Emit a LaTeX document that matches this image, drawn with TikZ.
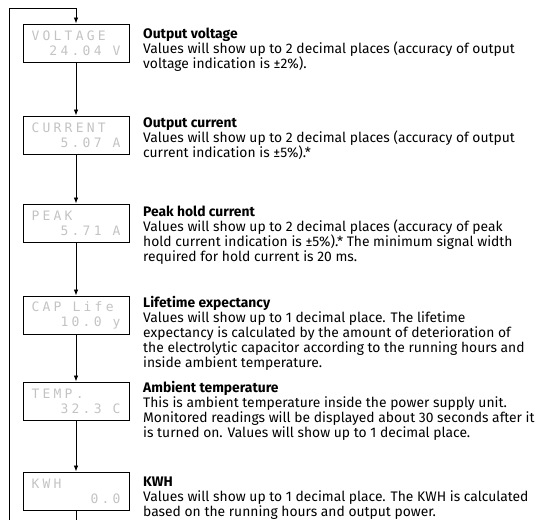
\documentclass[tikz,border=0pt]{standalone}
\usepackage{fontspec}
\setmainfont{Fira Sans}
\newfontfamily\lcdfont[LetterSpace=25]{DejaVu Sans Mono}
\usetikzlibrary{arrows.meta}
\definecolor{lcdgray}{RGB}{195,195,195}
\newcommand\lcdrows[2]{\makebox[89pt][l]{#1}\\\makebox[89pt][r]{#2}}
\begin{document}
\begin{tikzpicture}[x=1pt,y=-1pt,
  lcd/.style={draw,line width=0.9pt,minimum width=106pt,minimum height=38pt,inner sep=0pt,
    align=center,font=\lcdfont\fontsize{13}{15}\selectfont,text=lcdgray},
  desc/.style={anchor=north west,align=left,inner sep=0pt,font=\fontsize{13.85}{15}\selectfont},
  flow/.style={line width=0.8pt,-{Latex[length=6pt,width=4.5pt]}}]
\useasboundingbox (0,0) rectangle (550,520);
\node[lcd] (V) at (76,43) {\lcdrows{VOLTAGE}{24.04 V}};
\node[lcd] (C) at (76,135) {\lcdrows{CURRENT}{5.07 A}};
\node[lcd] (P) at (76,223) {\lcdrows{PEAK}{5.71 A}};
\node[lcd] (L) at (76,315) {\lcdrows{CAP Life}{10.0 y}};
\node[lcd] (T) at (76,401) {\lcdrows{TEMP.}{32.3 C}};
\node[lcd] (K) at (76,491) {\lcdrows{KWH}{0.0}};
\node[desc] (dV) at (143,28) {\textbf{Output voltage}\\Values will show up to 2 decimal places (accuracy of output\\voltage indication is ±2\%).};
\node[desc] (dC) at (143,117) {\textbf{Output current}\\Values will show up to 2 decimal places (accuracy of output\\current indication is ±5\%).*};
\node[desc] (dP) at (143,206) {\textbf{Peak hold current}\\Values will show up to 2 decimal places (accuracy of peak\\hold current indication is ±5\%).* The minimum signal width\\required for hold current is 20 ms.};
\node[desc] (dL) at (143,296) {\textbf{Lifetime expectancy}\\Values will show up to 1 decimal place. The lifetime\\expectancy is calculated by the amount of deterioration of\\the electrolytic capacitor according to the running hours and\\inside ambient temperature.};
\node[desc] (dT) at (143,381) {\textbf{Ambient temperature}\\This is ambient temperature inside the power supply unit.\\Monitored readings will be displayed about 30 seconds after it\\is turned on. Values will show up to 1 decimal place.};
\node[desc] (dK) at (143,477) {\textbf{KWH}\\Values will show up to 1 decimal place. The KWH is calculated\\based on the running hours and output power.};
\coordinate (top) at (76,8);
\coordinate (corner) at (9,8);
\coordinate (bottom) at (9,520);
\coordinate (end) at (76,520);
\draw[flow] (bottom) -- (corner) -- (top) -- (V);
\foreach \i/\j in {V/C,C/P,P/L,L/T,T/K} {
  \draw[flow] (\i) -- (\j);
}
\draw[line width=0.8pt] (K) -- (end);
\end{tikzpicture}
\end{document}
